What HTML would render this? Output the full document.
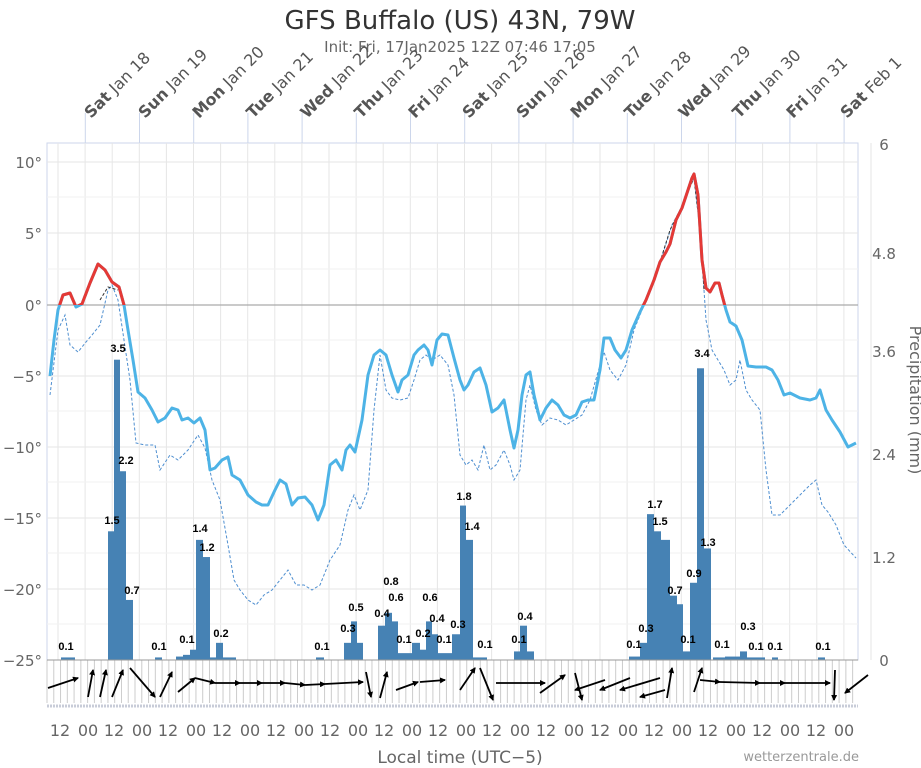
<!DOCTYPE html>
<html><head><meta charset="utf-8"><style>
body{margin:0;background:#fff;}
svg{display:block;font-family:"DejaVu Sans","Liberation Sans",sans-serif;}
</style></head><body>
<svg id="s" width="921" height="768" viewBox="0 0 921 768" xmlns="http://www.w3.org/2000/svg">
<defs>
<clipPath id="above"><rect x="0" y="0" width="921" height="305"/></clipPath>
<marker id="ah" markerWidth="6" markerHeight="6" refX="5" refY="3" orient="auto" markerUnits="userSpaceOnUse"><path d="M0,0 L6,3 L0,6 Z" fill="#000"/></marker>
</defs>
<rect x="47" y="143" width="811" height="517" fill="#fff" stroke="#ccd6eb"/>
<g id="grid"></g>
<g id="bars" fill="#4682b4"></g>
<line x1="47" y1="305" x2="858" y2="305" stroke="#aaa" stroke-width="1.2"/>
<line x1="47" y1="660" x2="858" y2="660" stroke="#999"/>
<path id="dew" fill="none" stroke="#4f8fd0" stroke-width="1" stroke-dasharray="3,2" d="M50,395 L58,330 L65,315 L70,345 L78,352 L86,342 L92,335 L100,325 L108,290 L112,285 L118,300 L124,340 L130,380 L136,443 L145,445 L155,445 L160,470 L170,455 L178,460 L188,450 L198,435 L205,448 L212,480 L220,500 L228,545 L234,580 L240,590 L248,600 L256,605 L264,595 L272,590 L280,580 L288,570 L296,585 L304,585 L312,590 L320,585 L330,560 L340,545 L348,510 L354,495 L360,510 L368,490 L374,410 L380,355 L386,390 L392,398 L400,400 L408,398 L414,380 L420,360 L426,355 L432,360 L440,355 L448,365 L454,395 L460,455 L466,465 L472,460 L478,470 L484,445 L490,470 L496,465 L504,450 L510,465 L514,480 L520,470 L526,400 L530,385 L536,410 L542,425 L550,418 L558,420 L566,425 L574,420 L582,415 L590,400 L598,372 L604,352 L610,370 L618,380 L626,365 L634,330 L640,315 L648,295 L656,275 L664,250 L672,225 L680,210 L688,190 L694,178 L700,230 L706,320 L712,350 L718,360 L724,370 L730,385 L736,380 L740,360 L746,390 L752,400 L760,410 L766,470 L772,515 L780,515 L790,505 L800,495 L810,485 L816,480 L822,505 L828,512 L836,525 L844,545 L856,558"/>
<path d="M100,300 L108,287 L118,290 M646,300 L660,262 L670,230 L680,210 L694,178 L700,230 L704,290" fill="none" stroke="#333" stroke-width="1" stroke-dasharray="3,2"/>
<path id="temp" fill="none" stroke="#4db3e6" stroke-width="3" stroke-linejoin="round" d="M50,376 L54,340 L58,310 L63,295 L70,293 L76,307 L82,304 L90,283 L98,264 L105,270 L112,282 L119,287 L124,305 L128,330 L133,360 L138,392 L145,398 L152,410 L158,422 L165,418 L172,408 L178,410 L182,420 L188,418 L194,423 L200,418 L205,430 L210,470 L215,468 L222,460 L228,457 L232,475 L240,480 L248,495 L256,502 L262,505 L268,505 L275,490 L280,480 L286,484 L292,505 L298,498 L305,497 L312,505 L318,520 L324,505 L330,465 L336,460 L342,470 L346,450 L350,445 L355,452 L362,420 L368,375 L374,355 L380,350 L386,355 L392,375 L398,392 L402,380 L408,375 L414,355 L418,350 L424,345 L428,350 L432,365 L437,340 L442,334 L448,335 L454,358 L460,380 L464,390 L468,385 L474,372 L480,368 L486,385 L492,412 L498,408 L504,400 L510,430 L514,448 L518,430 L522,395 L526,375 L530,372 L534,395 L540,420 L546,408 L552,400 L558,405 L564,415 L570,418 L576,415 L582,402 L588,400 L594,400 L600,370 L604,338 L610,338 L615,350 L621,358 L626,350 L632,330 L640,312 L646,300 L654,280 L660,262 L666,252 L670,244 L676,220 L682,208 L688,190 L692,178 L694,174 L698,195 L702,260 L706,288 L710,292 L715,283 L719,283 L722,295 L726,310 L730,322 L736,326 L742,340 L748,366 L756,367 L766,367 L772,370 L778,380 L784,395 L790,393 L800,398 L810,400 L816,398 L820,390 L826,410 L832,420 L840,432 L848,447 L856,443"/>
<path id="tempred" fill="none" stroke="#e53935" stroke-width="3" stroke-linejoin="round" clip-path="url(#above)" d=""/>
<g id="wind" stroke="#000" stroke-width="2" fill="none"></g>
<g font-size="11" font-weight="bold" fill="#000" text-anchor="middle" font-family="Liberation Sans, sans-serif">
<text x="66" y="650">0.1</text><text x="118" y="352">3.5</text><text x="112" y="524">1.5</text><text x="126" y="464">2.2</text><text x="132" y="594">0.7</text>
<text x="159" y="650">0.1</text><text x="187" y="643">0.1</text><text x="200" y="532">1.4</text><text x="207" y="551">1.2</text><text x="221" y="637">0.2</text>
<text x="322" y="650">0.1</text><text x="348" y="632">0.3</text><text x="356" y="611">0.5</text><text x="382" y="617">0.4</text><text x="391" y="585">0.8</text><text x="396" y="601">0.6</text><text x="404" y="643">0.1</text><text x="423" y="637">0.2</text><text x="430" y="601">0.6</text><text x="437" y="622">0.4</text><text x="444" y="643">0.1</text><text x="458" y="628">0.3</text><text x="464" y="500">1.8</text><text x="472" y="530">1.4</text><text x="485" y="648">0.1</text>
<text x="519" y="643">0.1</text><text x="525" y="620">0.4</text>
<text x="634" y="648">0.1</text><text x="646" y="632">0.3</text><text x="655" y="508">1.7</text><text x="660" y="525">1.5</text><text x="675" y="594">0.7</text><text x="688" y="643">0.1</text><text x="694" y="577">0.9</text><text x="702" y="357">3.4</text><text x="708" y="546">1.3</text><text x="722" y="648">0.1</text><text x="748" y="630">0.3</text><text x="756" y="650">0.1</text><text x="775" y="650">0.1</text><text x="823" y="650">0.1</text>
</g>
<g font-size="15" fill="#666" text-anchor="end">
<text x="42" y="168">10°</text><text x="42" y="239">5°</text><text x="42" y="311">0°</text><text x="42" y="382">−5°</text><text x="42" y="453">−10°</text><text x="42" y="524">−15°</text><text x="42" y="595">−20°</text><text x="42" y="666">−25°</text>
</g>
<g font-size="15" fill="#666" text-anchor="middle">
<text x="884" y="150">6</text><text x="884" y="259">4.8</text><text x="884" y="357">3.6</text><text x="884" y="460">2.4</text><text x="884" y="563">1.2</text><text x="884" y="666">0</text>
</g>
<text x="910" y="400" font-size="16" fill="#666" text-anchor="middle" transform="rotate(90 910 400)">Precipitation (mm)</text>
<g font-size="16" fill="#666" text-anchor="middle">
<text x="60" y="736">12</text><text x="88" y="736">00</text><text x="114" y="736">12</text><text x="142" y="736">00</text><text x="168" y="736">12</text><text x="196" y="736">00</text><text x="222" y="736">12</text><text x="250" y="736">00</text><text x="276" y="736">12</text><text x="304" y="736">00</text><text x="330" y="736">12</text><text x="358" y="736">00</text><text x="384" y="736">12</text><text x="412" y="736">00</text><text x="438" y="736">12</text><text x="466" y="736">00</text><text x="492" y="736">12</text><text x="520" y="736">00</text><text x="546" y="736">12</text><text x="574" y="736">00</text><text x="600" y="736">12</text><text x="628" y="736">00</text><text x="654" y="736">12</text><text x="682" y="736">00</text><text x="708" y="736">12</text><text x="736" y="736">00</text><text x="762" y="736">12</text><text x="790" y="736">00</text><text x="816" y="736">12</text><text x="844" y="736">00</text>
</g>
<text x="460" y="763" font-size="17" fill="#666" text-anchor="middle">Local time (UTC−5)</text>
<text x="859" y="761" font-size="13" fill="#999" text-anchor="end">wetterzentrale.de</text>
<text x="460" y="29" font-size="26" fill="#333" text-anchor="middle">GFS Buffalo (US) 43N, 79W</text>
<text x="460" y="52" font-size="15" fill="#666" text-anchor="middle">Init: Fri, 17Jan2025 12Z 07:46 17:05</text>
<g font-size="16" fill="#555">
<text transform="translate(91,119) rotate(-45)"><tspan font-weight="bold">Sat</tspan> Jan 18</text>
<text transform="translate(145,119) rotate(-45)"><tspan font-weight="bold">Sun</tspan> Jan 19</text>
<text transform="translate(199,119) rotate(-45)"><tspan font-weight="bold">Mon</tspan> Jan 20</text>
<text transform="translate(253,119) rotate(-45)"><tspan font-weight="bold">Tue</tspan> Jan 21</text>
<text transform="translate(307,119) rotate(-45)"><tspan font-weight="bold">Wed</tspan> Jan 22</text>
<text transform="translate(361,119) rotate(-45)"><tspan font-weight="bold">Thu</tspan> Jan 23</text>
<text transform="translate(415,119) rotate(-45)"><tspan font-weight="bold">Fri</tspan> Jan 24</text>
<text transform="translate(469,119) rotate(-45)"><tspan font-weight="bold">Sat</tspan> Jan 25</text>
<text transform="translate(523,119) rotate(-45)"><tspan font-weight="bold">Sun</tspan> Jan 26</text>
<text transform="translate(577,119) rotate(-45)"><tspan font-weight="bold">Mon</tspan> Jan 27</text>
<text transform="translate(631,119) rotate(-45)"><tspan font-weight="bold">Tue</tspan> Jan 28</text>
<text transform="translate(685,119) rotate(-45)"><tspan font-weight="bold">Wed</tspan> Jan 29</text>
<text transform="translate(739,119) rotate(-45)"><tspan font-weight="bold">Thu</tspan> Jan 30</text>
<text transform="translate(793,119) rotate(-45)"><tspan font-weight="bold">Fri</tspan> Jan 31</text>
<text transform="translate(847,119) rotate(-45)"><tspan font-weight="bold">Sat</tspan> Feb 1</text>
</g>
</svg>
<script>
var NS="http://www.w3.org/2000/svg";
function el(p,t,a){var e=document.createElementNS(NS,t);for(var k in a)e.setAttribute(k,a[k]);p.appendChild(e);return e;}
document.getElementById("tempred").setAttribute("d",document.getElementById("temp").getAttribute("d"));
var g=document.getElementById("grid");
for(var i=0;i<31;i++){var x=58+i*27.1;el(g,"line",{x1:x,y1:143,x2:x,y2:660,stroke:"#e6e6e6"});}
for(var i=0;i<15;i++){var x=85.3+i*54.2;el(g,"line",{x1:x,y1:113,x2:x,y2:143,stroke:"#ccd6eb"});}
[162,233,376,447,518,589].forEach(function(y){el(g,"line",{x1:47,y1:y,x2:858,y2:y,stroke:"#e6e6e6"});});
[197,269,340,411,482,553,624].forEach(function(y){el(g,"line",{x1:47,y1:y,x2:858,y2:y,stroke:"#f2f2f2"});});
for(var x=47;x<858;x+=6.77){el(g,"line",{x1:x,y1:660,x2:x,y2:703,stroke:"#ccc"});}
el(g,"line",{x1:47,y1:706,x2:858,y2:706,stroke:"#c8ccd8","stroke-width":3,"stroke-dasharray":"2,1"});
var b=document.getElementById("bars");
var bars=[[61,14,.03],[108,6,1.5],[114,6,3.5],[120,6,2.2],[126,7,.7],[155,7,.03],[176,7,.04],[183,7,.06],[190,6,.12],[196,7,1.4],[203,7,1.2],[210,6,.03],[216,7,.2],[223,13,.03],[316,8,.03],[344,7,.2],[351,6,.45],[357,6,.2],[378,7,.4],[385,7,.55],[392,6,.45],[398,14,.08],[412,8,.2],[420,6,.12],[426,6,.45],[432,6,.3],[438,14,.08],[452,8,.3],[460,6,1.8],[466,7,1.4],[473,14,.03],[514,6,.1],[520,7,.4],[527,7,.1],[629,11,.04],[640,7,.2],[647,7,1.7],[654,7,1.5],[661,9,1.4],[670,7,.75],[677,6,.65],[683,7,.1],[690,7,.9],[697,7,3.4],[704,7,1.3],[713,12,.03],[725,15,.04],[740,7,.1],[747,18,.03],[772,6,.03],[818,7,.03]];
bars.forEach(function(a){var h=a[2]*85.8;el(b,"rect",{x:a[0],y:660-h,width:a[1],height:h});});
var w=document.getElementById("wind");
var arr=[[48,688,78,678],[88,697,93,670],[100,697,106,670],[112,697,123,670],[130,668,155,697],[160,697,172,672],[178,692,195,678],[195,678,215,683],[215,683,240,683],[240,683,262,683],[262,683,285,683],[285,683,305,685],[305,685,325,684],[325,684,363,682],[366,672,371,697],[380,698,387,672],[396,690,418,682],[420,682,445,680],[460,690,475,668],[480,668,493,700],[496,683,545,683],[540,693,565,675],[575,673,582,700],[605,680,575,690],[630,678,600,690],[660,678,620,690],[665,690,640,697],[667,698,672,668],[694,692,702,668],[700,680,720,682],[720,682,760,683],[760,683,785,683],[785,683,830,683],[835,670,834,700],[868,675,845,693]];
arr.forEach(function(a){el(w,"line",{x1:a[0],y1:a[1],x2:a[2],y2:a[3],"marker-end":"url(#ah)","stroke-width":1.8});});
</script>
</body></html>
